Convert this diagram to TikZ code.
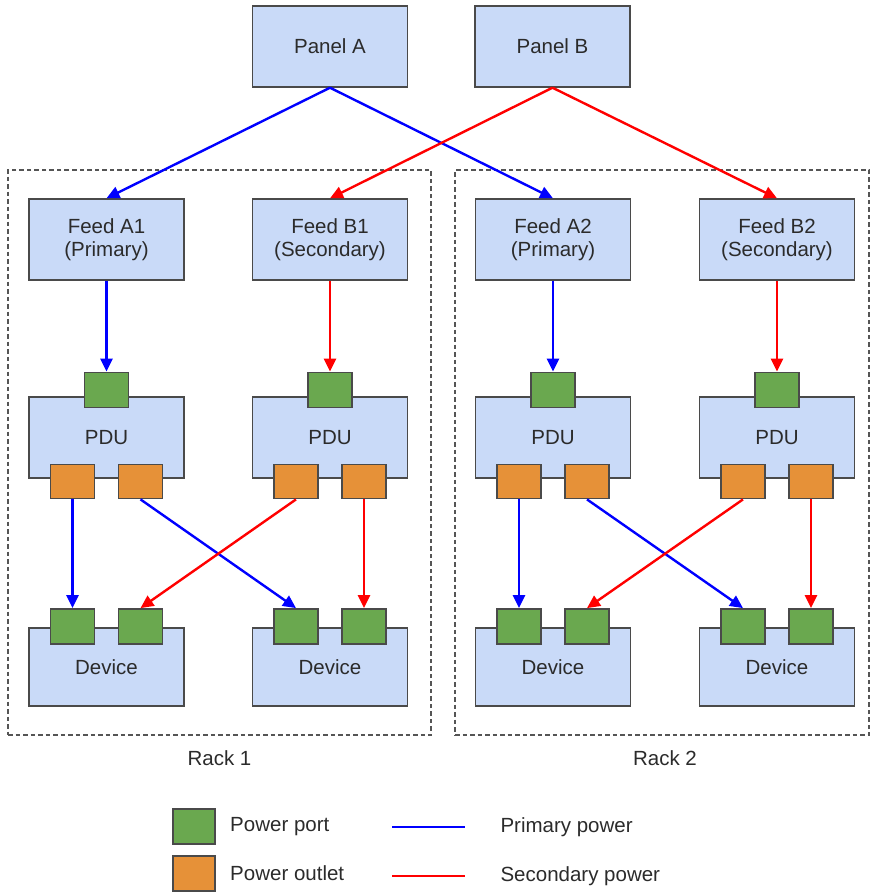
\documentclass[tikz,border=0pt]{standalone}
\usepackage{fontspec}
\setmainfont{Liberation Sans}
\usetikzlibrary{arrows.meta,positioning}
\definecolor{boxblue}{HTML}{C9DAF8}
\definecolor{boxline}{HTML}{4A4A4A}
\definecolor{portgreen}{HTML}{6AA84F}
\definecolor{outletorange}{HTML}{E69138}
\definecolor{primblue}{HTML}{0000FF}
\definecolor{secred}{HTML}{FF0000}
\definecolor{txtgray}{HTML}{2B2B2B}
\definecolor{rackgray}{HTML}{555555}
\tikzset{
  unitbox/.style={
    rectangle, draw=boxline, fill=boxblue, line width=1.4pt,
    minimum width=155pt, minimum height=#1,
    font=\fontsize{20.5}{23.5}\selectfont, text=txtgray, align=center,
    inner sep=0pt
  },
  unitbox/.default=81pt,
  portbox/.style={
    rectangle, draw=boxline, fill=portgreen, line width=1.4pt,
    minimum width=44pt, minimum height=35pt, inner sep=0pt
  },
  outletbox/.style={
    rectangle, draw=boxline, fill=outletorange, line width=1.4pt,
    minimum width=44pt, minimum height=34pt, inner sep=0pt
  },
  rackbox/.style={
    rectangle, draw=rackgray, dash pattern=on 4.5pt off 3pt, line width=1.3pt,
    inner sep=0pt
  },
  powerarrow/.style={
    -{Triangle[length=13pt, width=12pt]}, line width=2.4pt, color=#1
  },
  powerarrow/.default=primblue,
  keyline/.style={line width=2.4pt, color=#1},
  keyline/.default=primblue,
  labelnode/.style={
    font=\fontsize{20.5}{23.5}\selectfont, text=txtgray
  },
}
\begin{document}
\begin{tikzpicture}[x=1pt, y=-1pt]
  \useasboundingbox (0,0) rectangle (871,892);
  % racks
  \node[rackbox, minimum width=423pt, minimum height=565pt] (rack1) at (219.5,452.5) {};
  \node[rackbox, minimum width=414pt, minimum height=565pt] (rack2) at (662,452.5) {};
  \node[labelnode] (rack1lbl) at ([yshift=-23pt]rack1.south) {Rack 1};
  \node[labelnode] (rack2lbl) at ([yshift=-23pt, xshift=3pt]rack2.south) {Rack 2};
  % panels
  \node[unitbox] (panelA) at (330,46.5) {Panel A};
  \node[unitbox] (panelB) at (552.5,46.5) {Panel B};
  % feeds
  \node[unitbox] (feed1a) at (106.5,239.5) {Feed A1\\(Primary)};
  \node[unitbox] (feed1b) at (330,239.5) {Feed B1\\(Secondary)};
  \node[unitbox] (feed2a) at (553,239.5) {Feed A2\\(Primary)};
  \node[unitbox] (feed2b) at (777,239.5) {Feed B2\\(Secondary)};
  % PDUs
  \node[unitbox] (pdu1a) at (106.5,437.5) {PDU};
  \node[unitbox] (pdu1b) at (330,437.5) {PDU};
  \node[unitbox] (pdu2a) at (553,437.5) {PDU};
  \node[unitbox] (pdu2b) at (777,437.5) {PDU};
  \node[portbox] at ([yshift=6.5pt]pdu1a.north) (pin1a) {};
  \node[portbox] at ([yshift=6.5pt]pdu1b.north) (pin1b) {};
  \node[portbox] at ([yshift=6.5pt]pdu2a.north) (pin2a) {};
  \node[portbox] at ([yshift=6.5pt]pdu2b.north) (pin2b) {};
  \node[outletbox] at ([xshift=-34pt, yshift=-3pt]pdu1a.south) (out1a1) {};
  \node[outletbox] at ([xshift=34pt, yshift=-3pt]pdu1a.south) (out1a2) {};
  \node[outletbox] at ([xshift=-34pt, yshift=-3pt]pdu1b.south) (out1b1) {};
  \node[outletbox] at ([xshift=34pt, yshift=-3pt]pdu1b.south) (out1b2) {};
  \node[outletbox] at ([xshift=-34pt, yshift=-3pt]pdu2a.south) (out2a1) {};
  \node[outletbox] at ([xshift=34pt, yshift=-3pt]pdu2a.south) (out2a2) {};
  \node[outletbox] at ([xshift=-34pt, yshift=-3pt]pdu2b.south) (out2b1) {};
  \node[outletbox] at ([xshift=34pt, yshift=-3pt]pdu2b.south) (out2b2) {};
  % devices
  \node[unitbox=78pt] (dev1a) at (106.5,667) {Device};
  \node[unitbox=78pt] (dev1b) at (330,667) {Device};
  \node[unitbox=78pt] (dev2a) at (553,667) {Device};
  \node[unitbox=78pt] (dev2b) at (777,667) {Device};
  \node[portbox] at ([xshift=-34pt, yshift=1pt]dev1a.north) (in1a1) {};
  \node[portbox] at ([xshift=34pt, yshift=1pt]dev1a.north) (in1a2) {};
  \node[portbox] at ([xshift=-34pt, yshift=1pt]dev1b.north) (in1b1) {};
  \node[portbox] at ([xshift=34pt, yshift=1pt]dev1b.north) (in1b2) {};
  \node[portbox] at ([xshift=-34pt, yshift=1pt]dev2a.north) (in2a1) {};
  \node[portbox] at ([xshift=34pt, yshift=1pt]dev2a.north) (in2a2) {};
  \node[portbox] at ([xshift=-34pt, yshift=1pt]dev2b.north) (in2b1) {};
  \node[portbox] at ([xshift=34pt, yshift=1pt]dev2b.north) (in2b2) {};
  % power lines
  \draw[powerarrow] (panelA.south) -- (feed1a.north);
  \draw[powerarrow] (panelA.south) -- (feed2a.north);
  \draw[powerarrow=secred] (panelB.south) -- (feed1b.north);
  \draw[powerarrow=secred] (panelB.south) -- (feed2b.north);
  \draw[powerarrow] (feed1a.south) -- (pin1a.north);
  \draw[powerarrow=secred] (feed1b.south) -- (pin1b.north);
  \draw[powerarrow] (feed2a.south) -- (pin2a.north);
  \draw[powerarrow=secred] (feed2b.south) -- (pin2b.north);
  \draw[powerarrow] (out1a1.south) -- (in1a1.north);
  \draw[powerarrow] (out1a2.south) -- (in1b1.north);
  \draw[powerarrow=secred] (out1b1.south) -- (in1a2.north);
  \draw[powerarrow=secred] (out1b2.south) -- (in1b2.north);
  \draw[powerarrow] (out2a1.south) -- (in2a1.north);
  \draw[powerarrow] (out2a2.south) -- (in2b1.north);
  \draw[powerarrow=secred] (out2b1.south) -- (in2a2.north);
  \draw[powerarrow=secred] (out2b2.south) -- (in2b2.north);
  % legend
  \node[portbox, minimum width=42pt] (keyport) at (194,826.5) {};
  \node[outletbox, minimum width=42pt, minimum height=35pt] (keyoutlet) at (194,873.5) {};
  \node[labelnode, right=11pt of keyport] (keyporttxt) {Power port};
  \node[labelnode, right=11pt of keyoutlet] (keyoutlettxt) {Power outlet};
  \coordinate (keyblueA) at (392,827);
  \coordinate (keyblueB) at (465,827);
  \coordinate (keyredA) at (392,876);
  \coordinate (keyredB) at (465,876);
  \draw[keyline] (keyblueA) -- (keyblueB);
  \draw[keyline=secred] (keyredA) -- (keyredB);
  \node[labelnode, anchor=west] (keybluetxt) at (497,827) {Primary power};
  \node[labelnode, anchor=west] (keyredtxt) at (497,876) {Secondary power};
\end{tikzpicture}
\end{document}
